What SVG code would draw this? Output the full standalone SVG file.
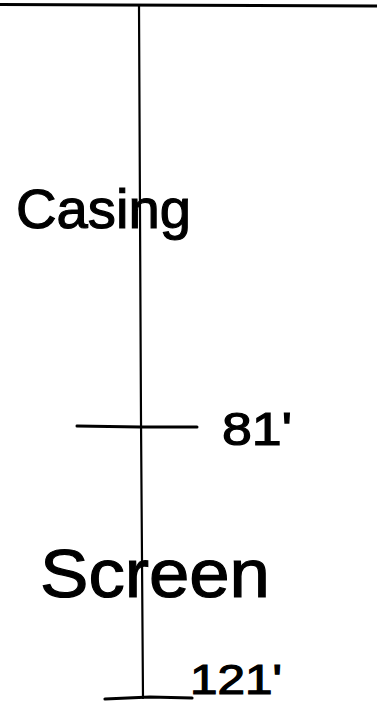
<svg xmlns="http://www.w3.org/2000/svg" width="377" height="708" viewBox="0 0 377 708">
<style>
.ln{stroke:#000;fill:none;stroke-linecap:round}
.hw{font-family:"Liberation Sans","DejaVu Sans",sans-serif;fill:#000;stroke:#000;stroke-width:1.2}
</style>
<rect width="377" height="708" fill="#fff"/>
<g id="lines">
<path class="ln" d="M0 4.5 L120 5 L377 6" stroke-width="3"/>
<path class="ln" d="M139 5 L141 420 L143 698" stroke-width="2.2"/>
<path class="ln" d="M77 426 L140 427 L197 427" stroke-width="3"/>
<path class="ln" d="M105 699 L150 697 L192 698" stroke-width="3.2"/>
</g>
<g id="casing"><text class="hw" x="16" y="228" font-size="56" textLength="175" lengthAdjust="spacingAndGlyphs">Casing</text></g>
<g id="depth81"><text class="hw" x="222" y="445" font-size="46" textLength="70" lengthAdjust="spacingAndGlyphs">81'</text></g>
<g id="screen"><text class="hw" x="40" y="597" font-size="68" textLength="230" lengthAdjust="spacingAndGlyphs">Screen</text></g>
<g id="depth121"><text class="hw" x="190" y="694" font-size="42" textLength="92" lengthAdjust="spacingAndGlyphs">121'</text></g>
</svg>
